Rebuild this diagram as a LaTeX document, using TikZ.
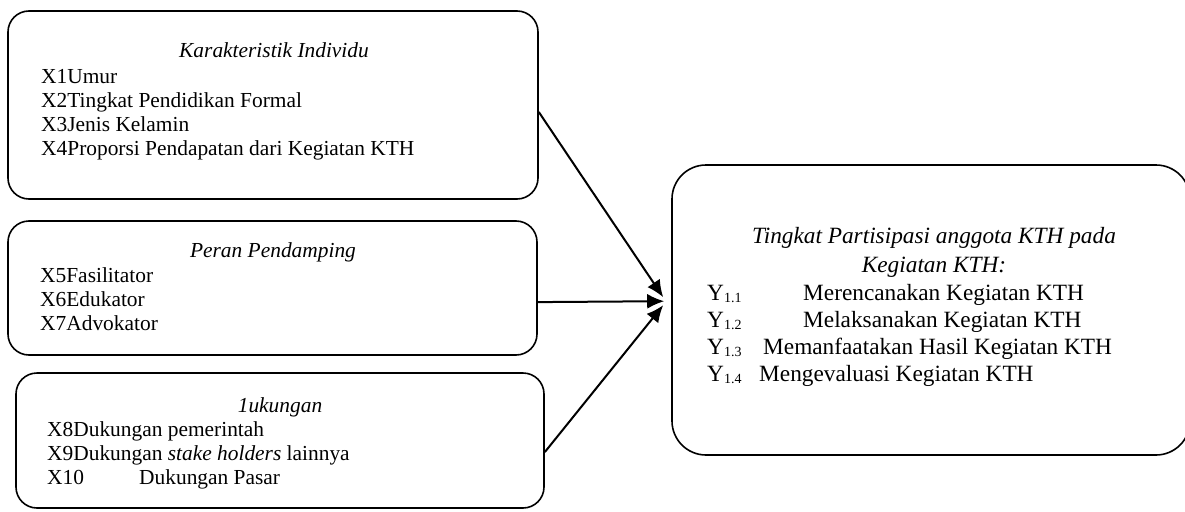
\documentclass[tikz,border=0pt]{standalone}
\usepackage{fontspec}
\setmainfont{Liberation Serif}
\usetikzlibrary{arrows.meta,calc}
\newcommand{\ysub}[1]{Y\raisebox{-0.28ex}{\fontsize{14}{14}\selectfont #1}}
\begin{document}
\begin{tikzpicture}[x=1pt,y=-1pt,
  box/.style={draw,line width=1.6pt,rounded corners=21pt,inner sep=0pt},
  txt/.style={anchor=base west,inner sep=0pt,font=\fontsize{21.4}{24}\selectfont},
  ttl/.style={anchor=base,inner sep=0pt,font=\fontsize{21.4}{24}\selectfont\itshape},
  rtxt/.style={anchor=base west,inner sep=0pt,font=\fontsize{23.3}{27}\selectfont},
  rttl/.style={anchor=base,inner sep=0pt,font=\fontsize{23.3}{27}\selectfont\itshape},
  arr/.style={line width=2pt,-{Latex[length=17pt,width=15pt]}}]
\useasboundingbox (0,0) rectangle (1185,511);
% boxes
\node[box,minimum width=530pt,minimum height=188pt] (b1) at (273,105) {};
\node[box,minimum width=529pt,minimum height=134pt] (b2) at (272.5,288) {};
\node[box,minimum width=528pt,minimum height=135pt] (b3) at (280,440.5) {};
\node[box,rounded corners=34pt,minimum width=518pt,minimum height=290pt] (b4) at (931,310) {};
% box 1
\node[ttl] (t1) at (274,58) {Karakteristik Individu};
\node[txt] (x1) at (41,83) {X1Umur};
\node[txt] (x2) at (41,107) {X2Tingkat Pendidikan Formal};
\node[txt] (x3) at (41,131) {X3Jenis Kelamin};
\node[txt] (x4) at (41,155) {X4Proporsi Pendapatan dari Kegiatan KTH};
% box 2
\node[ttl] (t2) at (273,257) {Peran Pendamping};
\node[txt] (x5) at (40,282) {X5Fasilitator};
\node[txt] (x6) at (40,306) {X6Edukator};
\node[txt] (x7) at (40,330) {X7Advokator};
% box 3
\node[ttl] (t3) at (280,412) {1ukungan};
\node[txt] (x8) at (47,436) {X8Dukungan pemerintah};
\node[txt] (x9) at (47,460) {X9Dukungan \textit{stake holders} lainnya};
\node[txt] (x10) at (47,484) {X10};
\node[txt] (x10b) at (139,484) {Dukungan Pasar};
% right box
\node[rttl] (t4) at (934,243) {Tingkat Partisipasi anggota KTH pada};
\node[rttl] (t4b) at (934,272) {Kegiatan KTH:};
\node[rtxt] (y1) at (707,300) {\ysub{1.1}};
\node[rtxt] (y1t) at (803,300) {Merencanakan Kegiatan KTH};
\node[rtxt] (y2) at (707,327) {\ysub{1.2}};
\node[rtxt] (y2t) at (803,327) {Melaksanakan Kegiatan KTH};
\node[rtxt] (y3) at (707,354) {\ysub{1.3}};
\node[rtxt] (y3t) at (763,354) {Memanfaatakan Hasil Kegiatan KTH};
\node[rtxt] (y4) at (707,381) {\ysub{1.4}};
\node[rtxt] (y4t) at (759,381) {Mengevaluasi Kegiatan KTH};
% connectors
\coordinate (s1) at ($(b1.north east)!0.537!(b1.south east)$);
\coordinate (s2) at ($(b2.north east)!0.604!(b2.south east)$);
\coordinate (s3) at ($(b3.north east)!0.585!(b3.south east)$);
\coordinate (e1) at ($(b4.north west)+(-8,133)$);
\coordinate (e2) at ($(b4.north west)+(-7,137)$);
\coordinate (e3) at ($(b4.north west)+(-8,141)$);
\draw[arr] (s1) -- (e1);
\draw[arr] (s2) -- (e2);
\draw[arr] (s3) -- (e3);
\end{tikzpicture}
\end{document}
